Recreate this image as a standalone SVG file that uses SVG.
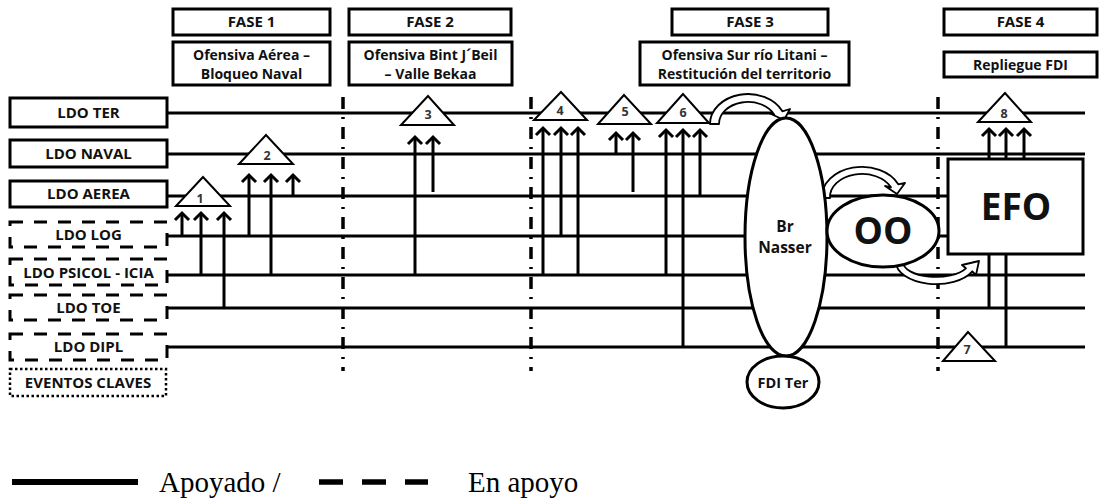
<svg xmlns="http://www.w3.org/2000/svg" width="1099" height="500" viewBox="0 0 1099 500">
<defs>
<style>
.box{fill:#fff;stroke:#000;stroke-width:3}
.dbox{fill:#fff;stroke:#000;stroke-width:3;stroke-dasharray:13 11}
.obox{fill:#fff;stroke:#000;stroke-width:2.5;stroke-dasharray:2.5 2.5}
.t{font-family:'Open Sans','DejaVu Sans',sans-serif;font-weight:bold;font-size:15px;fill:#111;text-anchor:middle}
.sub{font-size:14px}
.num{font-size:12.5px;fill:#333}
.big{font-size:37px}
.mid{font-size:15.5px}
.sm{font-size:14.5px}
.ln{stroke:#000;stroke-width:3;fill:none}
.arr{stroke:#000;stroke-width:3;fill:none;marker-end:url(#chev)}
.sep{stroke:#000;stroke-width:3.5;stroke-dasharray:12 8 2 8}
.tri{fill:#fff;stroke:#000;stroke-width:2}
.ell{fill:#fff;stroke:#000;stroke-width:3}
.carr{fill:#fff;stroke:#000;stroke-width:1.8;stroke-linejoin:round}
.leg{font-family:'Liberation Serif','Times New Roman',serif;font-size:29px;fill:#000}
</style>
<marker id="chev" viewBox="-10 -10 20 20" markerWidth="20" markerHeight="20" markerUnits="userSpaceOnUse" orient="auto" refX="0" refY="0">
<path d="M-7,-7 L0,0 L-7,7" fill="none" stroke="#000" stroke-width="3"/>
</marker>
</defs>
<rect width="1099" height="500" fill="#fff"/>

<g id="connectors">
<line class="ln" x1="167" y1="113" x2="1085" y2="113"/>
<line class="ln" x1="167" y1="154" x2="1085" y2="154"/>
<line class="ln" x1="167" y1="196" x2="948" y2="196"/>
<line class="ln" x1="167" y1="236" x2="948" y2="236"/>
<line class="ln" x1="167" y1="275" x2="1085" y2="275"/>
<line class="ln" x1="167" y1="308" x2="1085" y2="308"/>
<line class="ln" x1="167" y1="347" x2="1085" y2="347"/>

<line class="sep" x1="343" y1="97" x2="343" y2="371"/>
<line class="sep" x1="531" y1="97" x2="531" y2="371"/>
<line class="sep" x1="938" y1="97" x2="938" y2="371"/>

<line class="arr" x1="182" y1="236" x2="182" y2="213"/>
<line class="arr" x1="201" y1="275" x2="201" y2="213"/>
<line class="arr" x1="224" y1="308" x2="224" y2="213"/>
<line class="arr" x1="249" y1="236" x2="249" y2="175"/>
<line class="arr" x1="271" y1="275" x2="271" y2="175"/>
<line class="arr" x1="293" y1="196" x2="293" y2="175"/>
<line class="arr" x1="415" y1="275" x2="415" y2="137"/>
<line class="arr" x1="433" y1="192" x2="433" y2="137"/>
<line class="arr" x1="543" y1="275" x2="543" y2="128"/>
<line class="arr" x1="561" y1="236" x2="561" y2="128"/>
<line class="arr" x1="578" y1="275" x2="578" y2="128"/>
<line class="arr" x1="616" y1="154" x2="616" y2="133"/>
<line class="arr" x1="633" y1="192" x2="633" y2="133"/>
<line class="arr" x1="666" y1="275" x2="666" y2="130"/>
<line class="arr" x1="683" y1="347" x2="683" y2="130"/>
<line class="arr" x1="700" y1="196" x2="700" y2="130"/>
<line class="arr" x1="989" y1="159" x2="989" y2="129"/>
<line class="arr" x1="1006" y1="159" x2="1006" y2="129"/>
<line class="arr" x1="1024" y1="159" x2="1024" y2="129"/>
<line class="ln" x1="989" y1="254" x2="989" y2="308"/>
<line class="ln" x1="1006" y1="254" x2="1006" y2="347"/>

<path class="carr" d="M710,124 A38,30 0 0 1 782.4,111.3 L790,109 L784,120 L770,113.5 L774.3,114.7 A29,22 0 0 0 719,124 Z"/>
<path class="carr" d="M822,198 A40,30 0 0 1 898.3,184.3 L905,183 L897,194 L885,186 L891,187.3 A32,23 0 0 0 830,198 Z"/>
<path class="carr" d="M896,262 A40,22 0 0 0 972.3,271.3 L976,275 L979,261 L962,265 L965.9,268.3 A33,15 0 0 1 903,262 Z"/>
</g>

<g id="fase1">
<rect class="box" x="173" y="9" width="157" height="26"/>
<text class="t" x="251.5" y="27">FASE 1</text>
</g>
<g id="fase1-desc">
<rect class="box" x="173" y="42" width="157" height="43"/>
<text class="t sub" x="251.5" y="60">Ofensiva Aérea –</text>
<text class="t sub" x="251.5" y="79">Bloqueo Naval</text>
</g>
<g id="fase2">
<rect class="box" x="349" y="9" width="162" height="26"/>
<text class="t" x="430" y="27">FASE 2</text>
</g>
<g id="fase2-desc">
<rect class="box" x="349" y="42" width="163" height="43"/>
<text class="t sub" x="430.5" y="60">Ofensiva Bint J´Beil</text>
<text class="t sub" x="430.5" y="79">– Valle Bekaa</text>
</g>
<g id="fase3">
<rect class="box" x="672" y="9" width="156" height="26"/>
<text class="t" x="750" y="27">FASE 3</text>
</g>
<g id="fase3-desc">
<rect class="box" x="640" y="42" width="209" height="43"/>
<text class="t sub" x="744.5" y="60">Ofensiva Sur río Litani –</text>
<text class="t sub" x="744.5" y="79">Restitución del territorio</text>
</g>
<g id="fase4">
<rect class="box" x="944" y="9" width="153" height="26"/>
<text class="t" x="1020.5" y="27">FASE 4</text>
</g>
<g id="fase4-desc">
<rect class="box" x="944" y="52" width="153" height="25"/>
<text class="t sub" x="1020.5" y="70">Repliegue FDI</text>
</g>

<g id="ldo-ter"><rect class="box" x="10" y="98" width="157" height="29"/><text class="t" x="88.5" y="118">LDO TER</text></g>
<g id="ldo-naval"><rect class="box" x="10" y="140" width="157" height="27"/><text class="t" x="88.5" y="159">LDO NAVAL</text></g>
<g id="ldo-aerea"><rect class="box" x="10" y="181" width="157" height="26"/><text class="t" x="88.5" y="199">LDO AEREA</text></g>
<g id="ldo-log"><rect class="dbox" x="10" y="222" width="157" height="25"/><text class="t" x="88.5" y="240">LDO LOG</text></g>
<g id="ldo-psicol"><rect class="dbox" x="10" y="259" width="157" height="26"/><text class="t" x="88.5" y="278">LDO PSICOL - ICIA</text></g>
<g id="ldo-toe"><rect class="dbox" x="10" y="295" width="157" height="25"/><text class="t" x="88.5" y="313">LDO TOE</text></g>
<g id="ldo-dipl"><rect class="dbox" x="10" y="334" width="157" height="26"/><text class="t" x="88.5" y="352">LDO DIPL</text></g>
<g id="eventos"><rect class="obox" x="10" y="369" width="156" height="27"/><text class="t" x="88" y="388">EVENTOS CLAVES</text></g>

<g id="ev1"><polygon class="tri" points="203,177 176,206 230,206"/><text class="t num" x="200" y="203">1</text></g>
<g id="ev2"><polygon class="tri" points="266,135 239,164 293,164"/><text class="t num" x="267" y="160">2</text></g>
<g id="ev3"><polygon class="tri" points="428,96 401,125 454,125"/><text class="t num" x="428" y="119">3</text></g>
<g id="ev4"><polygon class="tri" points="561,92 534,120 587,120"/><text class="t num" x="560" y="115">4</text></g>
<g id="ev5"><polygon class="tri" points="624,95 598,124 651,124"/><text class="t num" x="625" y="116">5</text></g>
<g id="ev6"><polygon class="tri" points="683,94 657,123 709,123"/><text class="t num" x="683" y="117">6</text></g>
<g id="ev7"><polygon class="tri" points="968,332 943,361 995,361"/><text class="t num" x="967" y="354">7</text></g>
<g id="ev8"><polygon class="tri" points="1005,93 978,122 1031,122"/><text class="t num" x="1004" y="118">8</text></g>

<g id="br-nasser"><ellipse class="ell" cx="786" cy="237" rx="41" ry="119"/><text class="t mid" x="785" y="232">Br</text><text class="t mid" x="785" y="253">Nasser</text></g>
<g id="fdi-ter"><ellipse class="ell" cx="783" cy="382" rx="36" ry="26"/><text class="t sm" x="783" y="388">FDI Ter</text></g>
<g id="oo"><ellipse class="ell" cx="883" cy="231" rx="56" ry="36"/><text class="t big" x="883" y="244">OO</text></g>
<g id="efo"><rect class="box" x="948" y="159" width="135" height="95"/><text class="t big" x="1016" y="220">EFO</text></g>

<g id="legend">
<line x1="12" y1="482" x2="138" y2="482" stroke="#000" stroke-width="6"/>
<text class="leg" x="159" y="492">Apoyado /</text>
<line x1="319" y1="482" x2="428" y2="482" stroke="#000" stroke-width="5.5" stroke-dasharray="24 19"/>
<text class="leg" x="468" y="492">En apoyo</text>
</g>
</svg>
